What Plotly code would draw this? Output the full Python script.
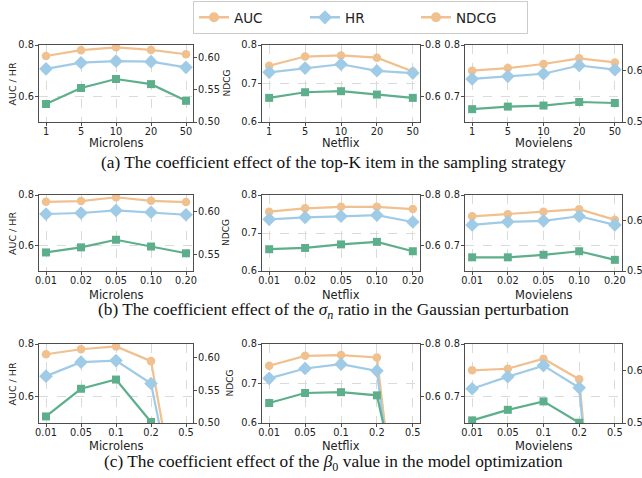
import plotly.graph_objects as go

# ---------------- data ----------------
cats_topk = ["1", "5", "10", "20", "50"]
cats_sigma = ["0.01", "0.02", "0.05", "0.10", "0.20"]
cats_beta = ["0.01", "0.05", "0.1", "0.2", "0.5"]
datasets = ["Microlens", "Netflix", "Movielens"]

# row (a): top-K
auc_a_micro = [0.757, 0.780, 0.791, 0.781, 0.764]
hr_a_micro = [0.707, 0.731, 0.737, 0.735, 0.713]
ndcg_a_micro = [0.528, 0.553, 0.567, 0.559, 0.533]
auc_a_netflix = [0.746, 0.770, 0.773, 0.767, 0.731]
hr_a_netflix = [0.729, 0.740, 0.750, 0.733, 0.727]
ndcg_a_netflix = [0.594, 0.616, 0.620, 0.607, 0.594]
auc_a_movie = [0.750, 0.755, 0.763, 0.774, 0.766]
hr_a_movie = [0.734, 0.739, 0.744, 0.760, 0.752]
ndcg_a_movie = [0.525, 0.530, 0.532, 0.539, 0.537]

# row (b): sigma_n
auc_b_micro = [0.773, 0.776, 0.791, 0.777, 0.772]
hr_b_micro = [0.725, 0.729, 0.739, 0.732, 0.722]
ndcg_b_micro = [0.552, 0.558, 0.567, 0.559, 0.551]
auc_b_netflix = [0.756, 0.765, 0.769, 0.769, 0.763]
hr_b_netflix = [0.736, 0.741, 0.744, 0.747, 0.729]
ndcg_b_netflix = [0.586, 0.591, 0.605, 0.615, 0.578]
auc_b_movie = [0.758, 0.762, 0.767, 0.772, 0.751]
hr_b_movie = [0.741, 0.747, 0.749, 0.758, 0.741]
ndcg_b_movie = [0.527, 0.527, 0.532, 0.539, 0.522]

# row (c): beta_0
auc_c_micro = [0.761, 0.780, 0.791, 0.735, 0.0]
hr_c_micro = [0.678, 0.731, 0.737, 0.650, 0.0]
ndcg_c_micro = [0.510, 0.552, 0.566, 0.5015, 0.0]
auc_c_netflix = [0.745, 0.770, 0.772, 0.766, 0.0]
hr_c_netflix = [0.713, 0.738, 0.749, 0.732, 0.0]
ndcg_c_netflix = [0.576, 0.614, 0.617, 0.605, 0.0]
auc_c_movie = [0.750, 0.753, 0.772, 0.733, 0.0]
hr_c_movie = [0.715, 0.738, 0.759, 0.717, 0.0]
ndcg_c_movie = [0.505, 0.525, 0.541, 0.5005, 0.0]

captions = [
    "(a) The coefficient effect of the top-K item in the sampling strategy",
    "(b) The coefficient effect of the <i>σ</i><sub><i>n</i></sub> ratio in the Gaussian perturbation",
    "(c) The coefficient effect of the <i>β</i><sub>0</sub> value in the model optimization",
]

# ---------------- styling ----------------
W, H = 642, 478
C_AUC = "#F0C08E"
C_HR = "#9FCBE6"
C_NDCG = "#5DAF8B"
SPINE = "#4d4d4d"
GRID = "#dadada"
FONT = "DejaVu Sans"

col_px = [(39, 193), (262, 420), (465, 622)]
row_px = [(45, 122), (195, 271), (344, 423)]
xtitle_y = [143, 295, 446]
caption_y = [163, 311, 463]

left_cfg = [
    dict(range=[0.5, 0.8], tickvals=[0.6, 0.8], ticktext=["0.6", "0.8"]),
    dict(range=[0.6, 0.8], tickvals=[0.6, 0.7, 0.8], ticktext=["0.6", "0.7", "0.8"]),
    dict(range=[0.65, 0.8], tickvals=[0.7, 0.8], ticktext=["0.7", "0.8"]),
]
right_cfg_rows = [
    [dict(range=[0.5, 0.62], tickvals=[0.5, 0.55, 0.6], ticktext=["0.50", "0.55", "0.60"]),
     dict(range=[0.5, 0.8], tickvals=[0.6, 0.8], ticktext=["0.6", "0.8"]),
     dict(range=[0.5, 0.65], tickvals=[0.5, 0.6], ticktext=["0.50", "0.60"])],
    [dict(range=[0.53, 0.62], tickvals=[0.55, 0.6], ticktext=["0.55", "0.60"]),
     dict(range=[0.5, 0.8], tickvals=[0.6, 0.8], ticktext=["0.6", "0.8"]),
     dict(range=[0.5, 0.65], tickvals=[0.5, 0.6], ticktext=["0.50", "0.60"])],
    [dict(range=[0.5, 0.62], tickvals=[0.5, 0.55, 0.6], ticktext=["0.50", "0.55", "0.60"]),
     dict(range=[0.5, 0.8], tickvals=[0.6, 0.8], ticktext=["0.6", "0.8"]),
     dict(range=[0.5, 0.65], tickvals=[0.5, 0.6], ticktext=["0.50", "0.60"])],
]

rows = [
    (cats_topk, [(auc_a_micro, hr_a_micro, ndcg_a_micro),
                 (auc_a_netflix, hr_a_netflix, ndcg_a_netflix),
                 (auc_a_movie, hr_a_movie, ndcg_a_movie)]),
    (cats_sigma, [(auc_b_micro, hr_b_micro, ndcg_b_micro),
                  (auc_b_netflix, hr_b_netflix, ndcg_b_netflix),
                  (auc_b_movie, hr_b_movie, ndcg_b_movie)]),
    (cats_beta, [(auc_c_micro, hr_c_micro, ndcg_c_micro),
                 (auc_c_netflix, hr_c_netflix, ndcg_c_netflix),
                 (auc_c_movie, hr_c_movie, ndcg_c_movie)]),
]


def xdom(a, b):
    return [a / W, b / W]


def ydom(top, bottom):
    return [1 - bottom / H, 1 - top / H]


fig = go.Figure()
layout = {}
annotations = []
tickfont = dict(family=FONT, size=9.8, color="#222")

idx = 0
for r, (cats, panels) in enumerate(rows):
    for c, (auc, hr, ndcg) in enumerate(panels):
        idx += 1
        xa = "x" if idx == 1 else f"x{idx}"
        yl_n = 2 * idx - 1
        yr_n = 2 * idx
        yl = "y" if yl_n == 1 else f"y{yl_n}"
        yr = f"y{yr_n}"
        xname = "xaxis" if idx == 1 else f"xaxis{idx}"
        ylname = "yaxis" if yl_n == 1 else f"yaxis{yl_n}"
        yrname = f"yaxis{yr_n}"

        fig.add_trace(go.Scatter(x=cats, y=auc, xaxis=xa, yaxis=yl, mode="lines+markers",
                                 line=dict(color=C_AUC, width=2.2),
                                 marker=dict(symbol="circle", size=8.5, color=C_AUC),
                                 showlegend=False, name="AUC"))
        fig.add_trace(go.Scatter(x=cats, y=hr, xaxis=xa, yaxis=yl, mode="lines+markers",
                                 line=dict(color=C_HR, width=2.2),
                                 marker=dict(symbol="diamond", size=10.5, color=C_HR),
                                 showlegend=False, name="HR"))
        fig.add_trace(go.Scatter(x=cats, y=ndcg, xaxis=xa, yaxis=yr, mode="lines+markers",
                                 line=dict(color=C_NDCG, width=2.2),
                                 marker=dict(symbol="square", size=8, color=C_NDCG),
                                 showlegend=False, name="NDCG"))

        x0, x1 = col_px[c]
        t, b = row_px[r]
        layout[xname] = dict(domain=xdom(x0, x1), anchor=yl, type="category",
                             categoryorder="array", categoryarray=cats,
                             range=[-0.2, len(cats) - 0.8],
                             showgrid=True, gridcolor=GRID, griddash="dash", gridwidth=0.8,
                             showline=True, linecolor=SPINE, linewidth=1.2, mirror=True,
                             ticks="outside", ticklen=3, tickcolor=SPINE,
                             ticklabelstandoff=-3,
                             tickfont=tickfont, zeroline=False)
        lc = left_cfg[c]
        layout[ylname] = dict(domain=ydom(t, b), anchor=xa, range=lc["range"],
                              tickvals=lc["tickvals"], ticktext=lc["ticktext"],
                              showgrid=True, gridcolor=GRID, griddash="dash", gridwidth=0.8,
                              showline=True, linecolor=SPINE, linewidth=1.2,
                              ticks="outside", ticklen=3, tickcolor=SPINE,
                              ticklabelstandoff=-1,
                              tickfont=tickfont, zeroline=False)
        rc = right_cfg_rows[r][c]
        layout[yrname] = dict(overlaying=yl, side="right", anchor=xa, range=rc["range"],
                              tickvals=rc["tickvals"], ticktext=rc["ticktext"],
                              showgrid=False, showline=True, linecolor=SPINE, linewidth=1.2,
                              ticks="outside", ticklen=3, tickcolor=SPINE,
                              ticklabelstandoff=-1,
                              tickfont=tickfont, zeroline=False)

        annotations.append(dict(text=datasets[c], xref="paper", yref="paper",
                                x=(x0 + x1) / 2 / W, y=1 - xtitle_y[r] / H,
                                xanchor="center", yanchor="middle", showarrow=False,
                                font=dict(family=FONT, size=11.5, color="#222")))
    ymid = (row_px[r][0] + row_px[r][1]) / 2
    annotations.append(dict(text="AUC / HR", xref="paper", yref="paper",
                            x=12 / W, y=1 - ymid / H, textangle=-90,
                            xanchor="center", yanchor="middle", showarrow=False,
                            font=dict(family=FONT, size=9.5, color="#222")))
    annotations.append(dict(text="NDCG", xref="paper", yref="paper",
                            x=(226 + (3 if r == 2 else 0)) / W, y=1 - ymid / H, textangle=-90,
                            xanchor="center", yanchor="middle", showarrow=False,
                            font=dict(family=FONT, size=9, color="#222")))
    annotations.append(dict(text=captions[r], xref="paper", yref="paper",
                            x=333 / W, y=1 - caption_y[r] / H,
                            xanchor="center", yanchor="middle", showarrow=False,
                            font=dict(family="Liberation Serif", size=17.3, color="#111")))

legend_items = [("AUC", C_AUC, "circle"), ("HR", C_HR, "diamond"), ("NDCG", C_AUC, "circle")]
for name, col, sym in legend_items:
    fig.add_trace(go.Scatter(x=[None], y=[None], mode="lines+markers", name=name,
                             line=dict(color=col, width=2.5),
                             marker=dict(symbol=sym, size=11 if sym == "diamond" else 10, color=col),
                             showlegend=True))

fig.update_layout(
    width=W, height=H, margin=dict(l=0, r=0, t=0, b=0, autoexpand=False),
    paper_bgcolor="white", plot_bgcolor="white",
    legend=dict(orientation="h", x=193 / W, y=1 - 1 / H, xanchor="left", yanchor="top",
                bordercolor="#cccccc", borderwidth=1, bgcolor="white",
                font=dict(family=FONT, size=13.5, color="#222"), itemwidth=30,
                entrywidth=66, entrywidthmode="pixels"),
    annotations=annotations,
    **layout,
)

fig.write_html("out.html", config={"displayModeBar": False},
               post_script="document.body.style.margin='0px';")
